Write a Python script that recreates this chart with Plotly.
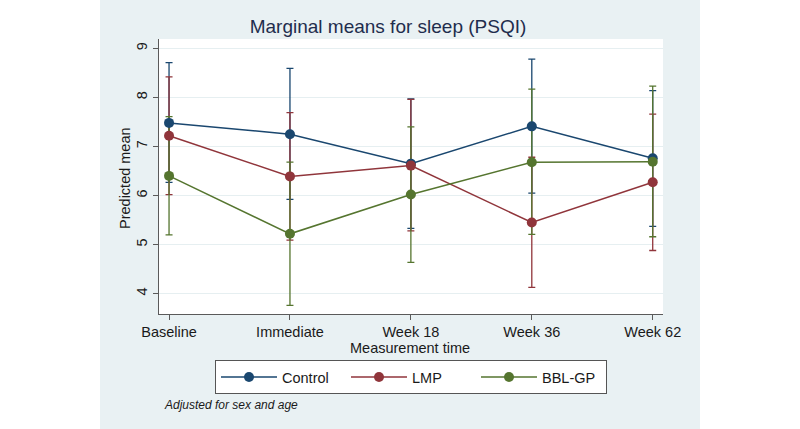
import plotly.graph_objects as go

# ---- data ----
timepoints = ["Baseline", "Immediate", "Week 18", "Week 36", "Week 62"]

control_mean = [7.48, 7.25, 6.65, 7.41, 6.76]
control_lo = [6.27, 5.92, 5.33, 6.05, 5.37]
control_hi = [8.71, 8.59, 7.97, 8.78, 8.14]

lmp_mean = [7.22, 6.39, 6.61, 5.45, 6.27]
lmp_lo = [6.02, 5.09, 5.28, 4.13, 4.88]
lmp_hi = [8.42, 7.69, 7.96, 6.78, 7.66]

bbl_mean = [6.40, 5.22, 6.02, 6.68, 6.69]
bbl_lo = [5.20, 3.76, 4.64, 5.21, 5.16]
bbl_hi = [7.61, 6.68, 7.40, 8.17, 8.23]

series = [
    ("Control", control_mean, control_lo, control_hi, "#1a476f"),
    ("LMP", lmp_mean, lmp_lo, lmp_hi, "#90353b"),
    ("BBL-GP", bbl_mean, bbl_lo, bbl_hi, "#55752f"),
]

y_ticks = [4, 5, 6, 7, 8, 9]

# ---- layout geometry (pixels) ----
W, H = 800, 429
X0, X1, Y0, Y1 = 159, 663, 39, 314   # plot area on screen
PW, PH = X1 - X0, Y1 - Y0


def px_x(px):
    return (px - X0) / PW


def px_y(py):
    return (Y1 - py) / PH


FONT = "Arial, 'Liberation Sans', sans-serif"
TXT = "#1a1a1a"
REGION = "#e9f1f3"

fig = go.Figure()

# confidence intervals first (beneath lines)
for name, mean, lo, hi, col in series:
    fig.add_trace(go.Scatter(
        x=timepoints, y=mean, mode="markers",
        marker=dict(size=1, color="rgba(0,0,0,0)"),
        error_y=dict(type="data", symmetric=False,
                     array=[h - m for h, m in zip(hi, mean)],
                     arrayminus=[m - l for m, l in zip(mean, lo)],
                     color=col, thickness=1.3, width=3.5),
        showlegend=False, hoverinfo="skip",
    ))

for name, mean, lo, hi, col in series:
    fig.add_trace(go.Scatter(
        x=timepoints, y=mean, mode="lines+markers", name=name,
        line=dict(color=col, width=1.5),
        marker=dict(color=col, size=10),
    ))

fig.update_layout(
    width=W, height=H,
    margin=dict(l=X0, r=W - X1, t=Y0, b=H - Y1),
    paper_bgcolor="white",
    plot_bgcolor="white",
    font=dict(family=FONT, size=14.5, color=TXT),
    title=dict(text="Marginal means for sleep (PSQI)",
               font=dict(family=FONT, size=19, color="#1f2d4d"),
               x=px_x(388), xanchor="center", xref="paper",
               y=1 - 26 / H, yanchor="middle"),
    xaxis=dict(
        range=[-0.083, 4.085],
        showline=True, linecolor="#5a5a5a", linewidth=1,
        ticks="outside", ticklen=5, tickcolor="#5a5a5a",
        showgrid=False, zeroline=False,
        tickfont=dict(size=14.5, color=TXT),
    ),
    yaxis=dict(
        range=[3.586, 9.19],
        tickvals=y_ticks,
        tickangle=-90,
        showline=True, linecolor="#5a5a5a", linewidth=1,
        ticks="outside", ticklen=5, tickcolor="#5a5a5a",
        showgrid=True, gridcolor="#e6eff1", gridwidth=1.2,
        zeroline=False,
        tickfont=dict(size=14.5, color=TXT),
    ),
    legend=dict(
        orientation="h",
        x=0.5, xanchor="center",
        y=px_y(360), yanchor="top",
        bgcolor="white", bordercolor="#555555", borderwidth=1,
        font=dict(size=14.5, color=TXT),
        itemwidth=56,
        entrywidth=59,
    ),
    shapes=[
        dict(type="rect", xref="paper", yref="paper",
             x0=px_x(100), x1=px_x(700), y0=px_y(H), y1=px_y(0),
             fillcolor=REGION, line=dict(width=0), layer="below"),
        dict(type="rect", xref="paper", yref="paper",
             x0=0, x1=1, y0=0, y1=1,
             fillcolor="white", line=dict(width=0), layer="below"),
    ],
    annotations=[
        dict(text="Measurement time", xref="paper", yref="paper",
             x=px_x(410), y=px_y(347.5), xanchor="center", yanchor="middle",
             showarrow=False, font=dict(family=FONT, size=14.5, color=TXT)),
        dict(text="Predicted mean", xref="paper", yref="paper",
             x=px_x(125), y=px_y(178), xanchor="center", yanchor="middle",
             textangle=-90,
             showarrow=False, font=dict(family=FONT, size=14.5, color=TXT)),
        dict(text="<i>Adjusted for sex and age</i>",
             xref="paper", yref="paper",
             x=px_x(162), y=px_y(405), xanchor="left", yanchor="middle",
             showarrow=False, font=dict(family=FONT, size=12, color=TXT)),
    ],
)

fig.write_html("out.html", config={"displayModeBar": False},
               post_script="document.body.style.margin='0';")
